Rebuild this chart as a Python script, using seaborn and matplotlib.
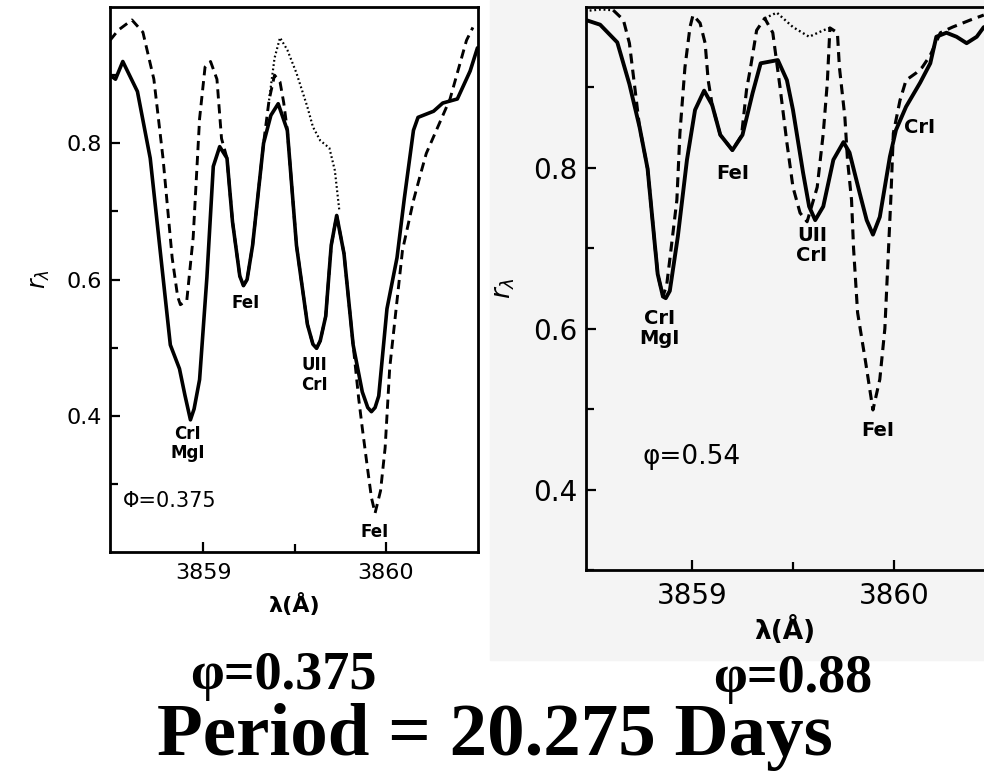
import matplotlib
matplotlib.use("Agg")
import matplotlib.pyplot as plt
import seaborn as sns
from matplotlib.patches import Rectangle
from matplotlib.ticker import FixedLocator

# ---- data (wavelength in A, residual intensity r) ----
# left panel, phase 0.375
l_solid_lam = [3858.49, 3858.52, 3858.56, 3858.64, 3858.71, 3858.82, 3858.87, 3858.90, 3858.93,
               3858.95, 3858.98, 3859.02, 3859.055, 3859.09, 3859.13, 3859.16, 3859.20, 3859.22,
               3859.24, 3859.27, 3859.33, 3859.37, 3859.41, 3859.46, 3859.51, 3859.57, 3859.60,
               3859.62, 3859.64, 3859.67, 3859.70, 3859.73, 3859.77, 3859.82, 3859.87, 3859.90,
               3859.92, 3859.94, 3859.96, 3860.005, 3860.06, 3860.10, 3860.15, 3860.175, 3860.26,
               3860.31, 3860.39, 3860.46, 3860.50]
l_solid_r = [0.900, 0.894, 0.920, 0.876, 0.778, 0.504, 0.469, 0.430, 0.394,
             0.410, 0.453, 0.603, 0.766, 0.795, 0.778, 0.685, 0.605, 0.591,
             0.600, 0.650, 0.800, 0.841, 0.858, 0.819, 0.650, 0.534, 0.505,
             0.499, 0.510, 0.546, 0.650, 0.694, 0.638, 0.504, 0.435, 0.412,
             0.406, 0.412, 0.429, 0.557, 0.632, 0.719, 0.819, 0.838, 0.847,
             0.859, 0.865, 0.906, 0.940]

l_dash_lam = [3858.49, 3858.535, 3858.61, 3858.67, 3858.73, 3858.78, 3858.83, 3858.86, 3858.875,
              3858.91, 3858.945, 3858.98, 3859.01, 3859.04, 3859.075, 3859.10, 3859.13, 3859.16,
              3859.20, 3859.22, 3859.24, 3859.27, 3859.33, 3859.36, 3859.39, 3859.42, 3859.44,
              3859.46, 3859.51, 3859.57, 3859.60, 3859.62, 3859.64, 3859.67, 3859.70, 3859.73,
              3859.77, 3859.82, 3859.85, 3859.87, 3859.90, 3859.92, 3859.94, 3859.97, 3859.995,
              3860.02, 3860.06, 3860.09, 3860.15, 3860.19, 3860.22, 3860.35, 3860.44, 3860.475]
l_dash_r = [0.951, 0.966, 0.981, 0.963, 0.894, 0.778, 0.632, 0.575, 0.563,
            0.569, 0.662, 0.836, 0.912, 0.920, 0.894, 0.807, 0.778, 0.685,
            0.605, 0.591, 0.600, 0.650, 0.800, 0.863, 0.900, 0.890, 0.860,
            0.819, 0.650, 0.534, 0.505, 0.499, 0.510, 0.546, 0.650, 0.694,
            0.638, 0.504, 0.426, 0.382, 0.320, 0.280, 0.257, 0.290, 0.353,
            0.470, 0.569, 0.643, 0.716, 0.756, 0.785, 0.865, 0.951, 0.970]

l_dot_lam = [3859.36, 3859.39, 3859.42, 3859.46, 3859.51, 3859.57, 3859.60, 3859.64, 3859.69,
             3859.72, 3859.745]
l_dot_r = [0.863, 0.925, 0.955, 0.937, 0.903, 0.853, 0.824, 0.804, 0.793, 0.760, 0.700]

# right panel, phase 0.54
r_solid_lam = [3858.46, 3858.545, 3858.63, 3858.69, 3858.74, 3858.78, 3858.81, 3858.83, 3858.856,
               3858.87, 3858.89, 3858.93, 3858.975, 3859.015, 3859.06, 3859.10, 3859.14, 3859.20,
               3859.25, 3859.30, 3859.34, 3859.425, 3859.47, 3859.50, 3859.55, 3859.58, 3859.61,
               3859.65, 3859.70, 3859.75, 3859.78, 3859.83, 3859.865, 3859.896, 3859.93, 3859.98,
               3860.01, 3860.06, 3860.13, 3860.18, 3860.21, 3860.26, 3860.31, 3860.36, 3860.41,
               3860.445]
r_solid_r = [0.985, 0.978, 0.956, 0.904, 0.851, 0.799, 0.720, 0.668, 0.640,
             0.638, 0.647, 0.715, 0.810, 0.872, 0.896, 0.878, 0.841, 0.822,
             0.841, 0.893, 0.930, 0.934, 0.909, 0.872, 0.794, 0.752, 0.735,
             0.752, 0.810, 0.832, 0.819, 0.769, 0.735, 0.717, 0.739, 0.814,
             0.847, 0.876, 0.906, 0.930, 0.963, 0.968, 0.963, 0.955, 0.963,
             0.975]

r_dash_lam = [3858.61, 3858.66, 3858.69, 3858.72, 3858.74, 3858.78, 3858.81, 3858.83, 3858.856,
              3858.875, 3858.89, 3858.925, 3858.94, 3858.965, 3858.99, 3859.005, 3859.04, 3859.065,
              3859.08, 3859.10, 3859.14, 3859.20, 3859.245, 3859.27, 3859.29, 3859.32, 3859.36,
              3859.40, 3859.436, 3859.47, 3859.50, 3859.535, 3859.57, 3859.62, 3859.65, 3859.67,
              3859.683, 3859.72, 3859.73, 3859.757, 3859.77, 3859.79, 3859.80, 3859.82, 3859.86,
              3859.896, 3859.93, 3859.955, 3859.97, 3859.985, 3859.997, 3860.03, 3860.06, 3860.11,
              3860.14, 3860.18, 3860.23, 3860.29, 3860.38, 3860.445]
r_dash_r = [0.996, 0.984, 0.955, 0.893, 0.851, 0.799, 0.720, 0.668, 0.640,
            0.655, 0.686, 0.760, 0.843, 0.925, 0.975, 0.990, 0.980, 0.955,
            0.909, 0.878, 0.841, 0.822, 0.840, 0.897, 0.925, 0.971, 0.986,
            0.968, 0.900, 0.831, 0.776, 0.744, 0.733, 0.776, 0.843, 0.906,
            0.974, 0.968, 0.925, 0.863, 0.810, 0.760, 0.700, 0.620, 0.558,
            0.499, 0.537, 0.600, 0.682, 0.764, 0.843, 0.884, 0.909, 0.918,
            0.925, 0.940, 0.968, 0.975, 0.984, 0.990]

r_dot_lam_a = [3858.47, 3858.55, 3858.61]
r_dot_r_a = [0.995, 0.997, 0.996]
r_dot_lam_b = [3859.36, 3859.42, 3859.50, 3859.58, 3859.65, 3859.683]
r_dot_r_b = [0.986, 0.993, 0.975, 0.963, 0.971, 0.974]

x_major = [3859, 3860]
x_labels = ['3859', '3860']
x_minor = [3859.5]
y_major = [0.4, 0.6, 0.8]
y_labels = ['0.4', '0.6', '0.8']
y_minor = [0.3, 0.5, 0.7, 0.9]

sns.set_theme(style="ticks")
plt.rcParams['font.family'] = ['DejaVu Sans']
plt.rcParams['text.color'] = 'black'

W, H = 984, 776
fig = plt.figure(figsize=(W / 100, H / 100), dpi=100)
fig.patch.set_facecolor('white')
# faint grey of the second scan, kept behind the axes
fig.patches.append(Rectangle((490 / W, 1 - 660 / H), 494 / W, 660 / H,
                             transform=fig.transFigure, color='#f4f4f4', zorder=-5))


def draw_panel(ax, solid, dash, dots, fs, lw):
    sns.lineplot(x=solid[0], y=solid[1], ax=ax, color='black', linewidth=lw)
    sns.lineplot(x=dash[0], y=dash[1], ax=ax, color='black', linewidth=lw * 0.8)
    ax.lines[-1].set_dashes([3.2, 2.0])
    for d in dots:
        sns.lineplot(x=d[0], y=d[1], ax=ax, color='black', linewidth=lw * 0.6)
        ax.lines[-1].set_dashes([0.8, 1.2])
    ax.set_facecolor('none')
    ax.xaxis.set_major_locator(FixedLocator(x_major))
    ax.xaxis.set_minor_locator(FixedLocator(x_minor))
    ax.yaxis.set_major_locator(FixedLocator(y_major))
    ax.yaxis.set_minor_locator(FixedLocator(y_minor))
    ax.set_xticklabels(x_labels)
    ax.set_yticklabels(y_labels)
    ax.tick_params(which='both', direction='in', width=1.6, colors='black', labelsize=fs)
    ax.tick_params(which='major', length=7)
    ax.tick_params(which='minor', length=6)
    for s in ax.spines.values():
        s.set_linewidth(2)
        s.set_color('black')


# ---- left panel ----
axl = fig.add_axes([110 / W, 1 - 552 / H, 368 / W, 545 / H])
draw_panel(axl, (l_solid_lam, l_solid_r), (l_dash_lam, l_dash_r),
           [(l_dot_lam, l_dot_r)], 16, 2.6)
axl.set_xlim(3858.49, 3860.503)
axl.set_ylim(0.2, 1.0)
axl.tick_params(axis='x', pad=8)
axl.tick_params(axis='y', pad=6)
axl.set_xlabel('λ(Å)', fontsize=16, fontweight='bold', labelpad=7, color='black')
axl.set_ylabel(r'$r_\lambda$', fontsize=17, labelpad=10, color='black')
tk = dict(fontsize=12, fontweight='bold', ha='center', va='top', linespacing=1.1, color='black')
axl.text(3858.915, 0.387, 'CrI\nMgI', **tk)
axl.text(3859.23, 0.578, 'FeI', **tk)
axl.text(3859.61, 0.487, 'UII\nCrI', **tk)
axl.text(3859.94, 0.242, 'FeI', **tk)
axl.text(3858.56, 0.275, 'Φ=0.375', fontsize=15, ha='left', va='center', color='black')

# ---- right panel ----
axr = fig.add_axes([586 / W, 1 - 570 / H, 398 / W, 563 / H])
draw_panel(axr, (r_solid_lam, r_solid_r), (r_dash_lam, r_dash_r),
           [(r_dot_lam_a, r_dot_r_a), (r_dot_lam_b, r_dot_r_b)], 20, 2.8)
axr.set_xlim(3858.475, 3860.446)
axr.set_ylim(0.3, 1.0)
axr.spines['right'].set_visible(False)
axr.tick_params(axis='x', pad=9)
axr.tick_params(axis='y', pad=6)
axr.set_xlabel('λ(Å)', fontsize=19, fontweight='bold', labelpad=4, color='black')
axr.set_ylabel(r'$r_\lambda$', fontsize=19, labelpad=12, color='black')
tk2 = dict(fontsize=14, fontweight='bold', ha='center', va='top', linespacing=1.1, color='black')
axr.text(3858.84, 0.625, 'CrI\nMgI', **tk2)
axr.text(3859.20, 0.805, 'FeI', **tk2)
axr.text(3859.594, 0.728, 'UII\nCrI', **tk2)
axr.text(3859.92, 0.485, 'FeI', **tk2)
axr.text(3860.05, 0.85, 'CrI', fontsize=14, fontweight='bold', ha='left', va='center', color='black')
axr.text(3858.757, 0.44, 'φ=0.54', fontsize=19, ha='left', va='center', color='black')

# ---- slide captions ----
cap = dict(family=['Liberation Serif', 'DejaVu Serif'], fontweight='bold', color='black')
fig.text(283 / W, 1 - 676 / H, 'φ=0.375', fontsize=39, ha='center', va='center', **cap)
fig.text(793 / W, 1 - 679 / H, 'φ=0.88', fontsize=39, ha='center', va='center', **cap)
fig.text(495 / W, 1 - 755 / H, 'Period = 20.275 Days', fontsize=54, ha='center',
         va='baseline', **cap)

fig.savefig('out.png', dpi=100)
